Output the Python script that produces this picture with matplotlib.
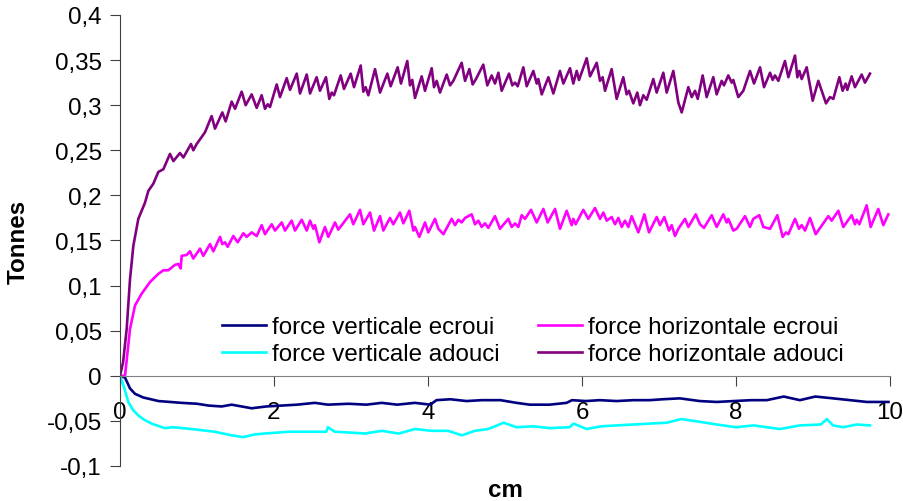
import matplotlib
matplotlib.use('Agg')
import matplotlib.pyplot as plt
from matplotlib.ticker import FuncFormatter

plt.rcParams['font.family'] = ['Liberation Sans', 'DejaVu Sans']

# force verticale ecroui (cm, tonnes)
x_v_ecroui = [0, 0.065, 0.13, 0.195, 0.3, 0.5, 0.8, 1.0, 1.15, 1.32, 1.45, 1.71, 1.9, 2.1, 2.3,
              2.53, 2.7, 2.97, 3.2, 3.4, 3.6, 3.83, 4.03, 4.11, 4.29, 4.5, 4.7, 4.94, 5.15, 5.32,
              5.58, 5.8, 5.87, 6.05, 6.23, 6.45, 6.67, 6.88, 7.05, 7.27, 7.53, 7.75, 7.97, 8.2,
              8.4, 8.62, 8.83, 9.03, 9.26, 9.48, 9.7, 9.98]
y_v_ecroui = [0, -0.002, -0.014, -0.020, -0.024, -0.028, -0.030, -0.031, -0.033, -0.034, -0.032,
              -0.036, -0.034, -0.033, -0.032, -0.030, -0.032, -0.031, -0.032, -0.030, -0.032,
              -0.030, -0.032, -0.027, -0.026, -0.028, -0.027, -0.027, -0.030, -0.032, -0.032,
              -0.030, -0.027, -0.028, -0.027, -0.028, -0.027, -0.027, -0.026, -0.025, -0.028,
              -0.029, -0.028, -0.027, -0.027, -0.023, -0.027, -0.023, -0.025, -0.027, -0.029,
              -0.029]

# force verticale adouci
x_v_adouci = [0, 0.05, 0.108, 0.17, 0.238, 0.32, 0.41, 0.58, 0.69, 0.93, 1.23, 1.45, 1.6, 1.75,
              1.88, 2.19, 2.53, 2.68, 2.7, 2.79, 3.0, 3.18, 3.4, 3.62, 3.83, 4.05, 4.26, 4.44,
              4.61, 4.78, 4.9, 4.98, 5.15, 5.37, 5.58, 5.84, 5.89, 6.06, 6.25, 6.45, 6.88, 7.1,
              7.29, 7.53, 7.75, 8.0, 8.23, 8.57, 8.83, 9.1, 9.18, 9.26, 9.39, 9.57, 9.74]
y_v_adouci = [0, -0.012, -0.029, -0.038, -0.044, -0.049, -0.053, -0.058, -0.057, -0.059, -0.062,
              -0.066, -0.068, -0.065, -0.064, -0.062, -0.062, -0.062, -0.057, -0.062, -0.063,
              -0.064, -0.061, -0.064, -0.059, -0.061, -0.061, -0.066, -0.061, -0.059, -0.055,
              -0.052, -0.057, -0.056, -0.058, -0.057, -0.053, -0.059, -0.056, -0.055, -0.053,
              -0.052, -0.048, -0.051, -0.054, -0.057, -0.055, -0.059, -0.055, -0.054, -0.048,
              -0.055, -0.057, -0.054, -0.055]

# force horizontale ecroui
x_h_ecroui = [0, 0.065, 0.13, 0.195, 0.281, 0.39, 0.498, 0.563, 0.628, 0.714, 0.758, 0.788, 0.801,
              0.866, 0.909, 0.952, 1.039, 1.082, 1.169, 1.212, 1.299, 1.329, 1.364, 1.398, 1.472,
              1.528, 1.602, 1.645, 1.71, 1.775, 1.84, 1.883, 1.97, 2.013, 2.1, 2.143, 2.229,
              2.273, 2.36, 2.425, 2.468, 2.511, 2.532, 2.589, 2.662, 2.705, 2.792, 2.835, 2.879,
              2.987, 3.03, 3.117, 3.16, 3.247, 3.299, 3.377, 3.42, 3.506, 3.55, 3.636, 3.68,
              3.757, 3.81, 3.831, 3.887, 3.961, 4.004, 4.091, 4.134, 4.2, 4.308, 4.351, 4.394,
              4.437, 4.481, 4.567, 4.61, 4.654, 4.697, 4.74, 4.784, 4.87, 4.935, 5.043, 5.087,
              5.13, 5.173, 5.217, 5.26, 5.338, 5.412, 5.498, 5.555, 5.65, 5.714, 5.801, 5.866,
              5.887, 5.918, 6.017, 6.082, 6.169, 6.234, 6.277, 6.321, 6.385, 6.429, 6.472, 6.516,
              6.558, 6.602, 6.645, 6.732, 6.81, 6.87, 6.97, 7.013, 7.069, 7.13, 7.165, 7.208,
              7.251, 7.338, 7.381, 7.477, 7.532, 7.584, 7.684, 7.749, 7.835, 7.879, 7.9, 7.965,
              8.009, 8.117, 8.182, 8.225, 8.303, 8.355, 8.442, 8.537, 8.606, 8.649, 8.68, 8.766,
              8.818, 8.853, 8.896, 8.961, 9.035, 9.1, 9.199, 9.242, 9.329, 9.394, 9.502, 9.545,
              9.567, 9.602, 9.697, 9.749, 9.848, 9.913, 9.978]
y_h_ecroui = [0, 0, 0.052, 0.078, 0.091, 0.104, 0.113, 0.117, 0.117, 0.123, 0.124, 0.119, 0.133,
              0.134, 0.138, 0.130, 0.141, 0.133, 0.146, 0.138, 0.154, 0.146, 0.148, 0.143, 0.155,
              0.148, 0.158, 0.154, 0.159, 0.155, 0.167, 0.157, 0.168, 0.161, 0.170, 0.161, 0.172,
              0.161, 0.173, 0.161, 0.172, 0.163, 0.167, 0.148, 0.165, 0.154, 0.170, 0.162, 0.167,
              0.179, 0.168, 0.184, 0.168, 0.181, 0.161, 0.177, 0.161, 0.175, 0.168, 0.181, 0.169,
              0.183, 0.161, 0.165, 0.154, 0.170, 0.159, 0.174, 0.163, 0.157, 0.174, 0.167, 0.173,
              0.170, 0.175, 0.179, 0.168, 0.172, 0.165, 0.169, 0.164, 0.177, 0.163, 0.174, 0.165,
              0.169, 0.165, 0.178, 0.174, 0.184, 0.170, 0.185, 0.170, 0.185, 0.163, 0.183, 0.167,
              0.174, 0.168, 0.184, 0.174, 0.186, 0.174, 0.181, 0.172, 0.176, 0.168, 0.175, 0.165,
              0.172, 0.165, 0.177, 0.159, 0.179, 0.159, 0.176, 0.167, 0.176, 0.161, 0.167, 0.155,
              0.163, 0.174, 0.165, 0.179, 0.168, 0.164, 0.178, 0.165, 0.179, 0.170, 0.174, 0.161,
              0.163, 0.177, 0.165, 0.174, 0.178, 0.165, 0.163, 0.178, 0.154, 0.159, 0.157, 0.174,
              0.163, 0.167, 0.161, 0.175, 0.157, 0.165, 0.177, 0.172, 0.183, 0.165, 0.178, 0.168,
              0.173, 0.168, 0.189, 0.165, 0.185, 0.167, 0.179]

# force horizontale adouci
x_h_adouci = [0, 0.04, 0.087, 0.13, 0.173, 0.238, 0.281, 0.325, 0.368, 0.433, 0.498, 0.563, 0.649,
              0.693, 0.779, 0.823, 0.922, 0.952, 0.996, 1.104, 1.19, 1.234, 1.329, 1.372, 1.45,
              1.494, 1.58, 1.632, 1.71, 1.775, 1.84, 1.883, 1.918, 1.948, 2.035, 2.078, 2.165,
              2.208, 2.295, 2.338, 2.425, 2.468, 2.554, 2.597, 2.675, 2.718, 2.749, 2.779, 2.866,
              2.909, 2.996, 3.039, 3.126, 3.16, 3.19, 3.225, 3.312, 3.377, 3.472, 3.515, 3.606,
              3.649, 3.731, 3.766, 3.796, 3.831, 3.918, 3.961, 4.048, 4.078, 4.113, 4.156, 4.243,
              4.286, 4.329, 4.437, 4.481, 4.537, 4.58, 4.623, 4.718, 4.77, 4.827, 4.87, 4.914,
              4.957, 5.052, 5.095, 5.13, 5.165, 5.238, 5.282, 5.368, 5.412, 5.433, 5.477, 5.563,
              5.628, 5.714, 5.758, 5.844, 5.887, 5.931, 5.961, 6.061, 6.104, 6.191, 6.234, 6.268,
              6.299, 6.385, 6.45, 6.536, 6.58, 6.61, 6.666, 6.718, 6.753, 6.796, 6.84, 6.926,
              6.97, 7.056, 7.1, 7.186, 7.251, 7.295, 7.381, 7.425, 7.468, 7.503, 7.567, 7.619,
              7.705, 7.749, 7.814, 7.844, 7.9, 7.944, 7.965, 8.03, 8.095, 8.182, 8.234, 8.312,
              8.364, 8.442, 8.476, 8.506, 8.55, 8.636, 8.68, 8.766, 8.797, 8.823, 8.853, 8.918,
              8.996, 9.069, 9.169, 9.221, 9.264, 9.342, 9.385, 9.424, 9.446, 9.502, 9.545, 9.632,
              9.675, 9.74]
y_h_adouci = [0, 0.015, 0.052, 0.107, 0.144, 0.174, 0.183, 0.192, 0.205, 0.213, 0.226, 0.229,
              0.246, 0.238, 0.247, 0.242, 0.257, 0.250, 0.257, 0.270, 0.288, 0.274, 0.292, 0.282,
              0.304, 0.296, 0.315, 0.300, 0.312, 0.297, 0.311, 0.296, 0.301, 0.298, 0.323, 0.309,
              0.330, 0.317, 0.335, 0.313, 0.334, 0.313, 0.331, 0.316, 0.331, 0.307, 0.314, 0.311,
              0.333, 0.318, 0.335, 0.320, 0.344, 0.315, 0.320, 0.311, 0.340, 0.314, 0.335, 0.321,
              0.342, 0.324, 0.349, 0.322, 0.328, 0.308, 0.332, 0.316, 0.341, 0.320, 0.327, 0.314,
              0.334, 0.322, 0.327, 0.347, 0.327, 0.340, 0.323, 0.329, 0.345, 0.322, 0.333, 0.324,
              0.336, 0.316, 0.335, 0.322, 0.325, 0.321, 0.342, 0.321, 0.338, 0.324, 0.329, 0.312,
              0.331, 0.313, 0.338, 0.324, 0.341, 0.324, 0.338, 0.328, 0.352, 0.332, 0.347, 0.327,
              0.331, 0.316, 0.340, 0.307, 0.331, 0.312, 0.316, 0.302, 0.314, 0.300, 0.311, 0.306,
              0.329, 0.314, 0.336, 0.314, 0.338, 0.303, 0.292, 0.320, 0.309, 0.316, 0.307, 0.333,
              0.309, 0.331, 0.312, 0.327, 0.322, 0.333, 0.325, 0.328, 0.309, 0.316, 0.338, 0.324,
              0.342, 0.320, 0.336, 0.328, 0.333, 0.327, 0.349, 0.331, 0.355, 0.331, 0.338, 0.329,
              0.342, 0.305, 0.327, 0.302, 0.309, 0.307, 0.331, 0.316, 0.324, 0.317, 0.332, 0.320,
              0.334, 0.325, 0.335]

yticks = [-0.1, -0.05, 0, 0.05, 0.1, 0.15, 0.2, 0.25, 0.3, 0.35, 0.4]
xticks = [0, 2, 4, 6, 8, 10]

fs = 17.4
fig = plt.figure(figsize=(9.04, 5.02), dpi=100)
ax = fig.add_axes([120 / 904, 1 - 467 / 502, 770 / 904, 451 / 502])

ax.plot(x_v_ecroui, y_v_ecroui, color='#000080', lw=1.9, label='force verticale ecroui')
ax.plot(x_v_adouci, y_v_adouci, color='#00FFFF', lw=1.9, label='force verticale adouci')
ax.plot(x_h_ecroui, y_h_ecroui, color='#FF00FF', lw=1.9, label='force horizontale ecroui')
ax.plot(x_h_adouci, y_h_adouci, color='#800080', lw=1.9, label='force horizontale adouci')

ax.set_xlim(0, 10)
ax.set_ylim(-0.1, 0.4)
ax.set_xticks(xticks)
ax.set_yticks(yticks)
ax.yaxis.set_major_formatter(FuncFormatter(lambda v, p: ('%g' % round(v, 2)).replace('.', ',')))

# axe des x qui passe par zero, style Excel
ax.spines['top'].set_visible(False)
ax.spines['right'].set_visible(False)
ax.spines['bottom'].set_position(('data', 0))
ax.spines['bottom'].set_color('#808080')
ax.spines['left'].set_color('#404040')
ax.tick_params(axis='x', direction='out', length=7, pad=11, labelsize=fs, color='#404040')
ax.tick_params(axis='y', direction='out', length=7, pad=6, labelsize=fs, color='#404040')

ax.set_ylabel('Tonnes', fontsize=fs, fontweight='bold', va='center')
ax.yaxis.set_label_coords(-0.1325, 0.5)
ax.set_xlabel('cm', fontsize=fs, fontweight='bold', va='center')
ax.xaxis.set_label_coords(0.5, -0.051)

ax.legend(ncol=2, frameon=False, fontsize=fs, loc='upper left',
          bbox_to_anchor=(222 / 904, 1 - 317 / 502), bbox_transform=fig.transFigure,
          borderpad=0, borderaxespad=0, handlelength=1.82, handletextpad=0.25,
          columnspacing=1.6, labelspacing=0.22)

fig.savefig('out.png', dpi=100)
